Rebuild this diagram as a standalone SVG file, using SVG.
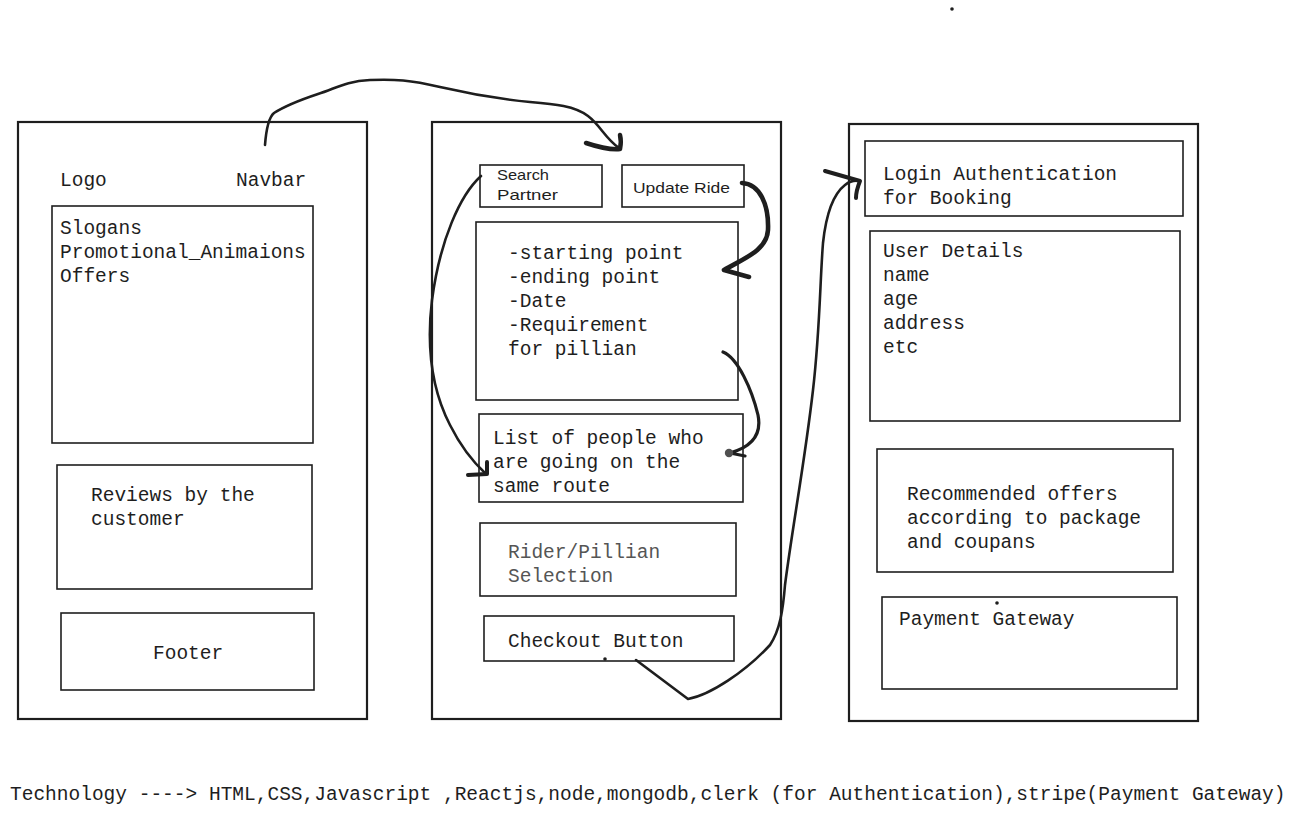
<svg xmlns="http://www.w3.org/2000/svg" width="1297" height="814" viewBox="0 0 1297 814">
<style>
.frame{fill:#fff;stroke:#1e1e1e;stroke-width:2.2}
.box{fill:none;stroke:#1e1e1e;stroke-width:1.6}
.t{font-family:"Liberation Mono","DejaVu Sans Mono",monospace;font-size:19.5px;fill:#1e1e1e}
.g{fill:#555}
.h{font-family:"Liberation Sans","DejaVu Sans",sans-serif;font-size:15px;fill:#1e1e1e}
.c{fill:none;stroke:#1e1e1e;stroke-linecap:round;stroke-linejoin:round}
</style>
<rect width="1297" height="814" fill="#fff"/>
<g id="home-page">
<rect class="frame" x="18" y="122" width="349" height="597"/>
<text class="t" x="60" y="186">Logo</text>
<text class="t" x="236" y="186">Navbar</text>
</g>
<g id="hero">
<rect class="box" x="52" y="206" width="261" height="237"/>
<text class="t" x="60" y="234">Slogans</text>
<text class="t" x="60" y="258">Promotional_Animaions</text>
<text class="t" x="60" y="282">Offers</text>
</g>
<g id="reviews">
<rect class="box" x="57" y="465" width="255" height="124"/>
<text class="t" x="91" y="501">Reviews by the</text>
<text class="t" x="91" y="525">customer</text>
</g>
<g id="footer">
<rect class="box" x="61" y="613" width="253" height="77"/>
<text class="t" x="153" y="659">Footer</text>
</g>
<g id="ride-page">
<rect class="frame" x="432" y="122" width="349" height="597"/>
</g>
<g id="search-partner">
<rect class="box" x="480" y="165" width="122" height="42"/>
<text class="h" x="497" y="180" textLength="52" lengthAdjust="spacingAndGlyphs">Search</text>
<text class="h" x="497" y="200" textLength="61" lengthAdjust="spacingAndGlyphs">Partner</text>
</g>
<g id="update-ride">
<rect class="box" x="622" y="165" width="122" height="42"/>
<text class="h" x="633" y="193" textLength="97" lengthAdjust="spacingAndGlyphs">Update Ride</text>
</g>
<g id="ride-details">
<rect class="box" x="476" y="222" width="262" height="178" stroke-width="2"/>
<text class="t" x="508" y="259">-starting point</text>
<text class="t" x="508" y="283">-ending point</text>
<text class="t" x="508" y="307">-Date</text>
<text class="t" x="508" y="331">-Requirement</text>
<text class="t" x="508" y="355">for pillian</text>
</g>
<g id="people-list">
<rect class="box" x="479" y="414" width="264" height="88"/>
<text class="t" x="493" y="444">List of people who</text>
<text class="t" x="493" y="468">are going on the</text>
<text class="t" x="493" y="492">same route</text>
</g>
<g id="rider-selection">
<rect class="box" x="480" y="523" width="256" height="73"/>
<text class="t g" x="508" y="558">Rider/Pillian</text>
<text class="t g" x="508" y="582">Selection</text>
</g>
<g id="checkout">
<rect class="box" x="484" y="616" width="250" height="45"/>
<text class="t" x="508" y="647">Checkout Button</text>
<circle cx="605" cy="659" r="1.8" fill="#1e1e1e"/>
</g>
<g id="booking-page">
<rect class="frame" x="849" y="124" width="349" height="597"/>
</g>
<g id="login">
<rect class="box" x="865" y="141" width="318" height="75"/>
<text class="t" x="883" y="180">Login Authentication</text>
<text class="t" x="883" y="204">for Booking</text>
</g>
<g id="user-details">
<rect class="box" x="870" y="231" width="310" height="190"/>
<text class="t" x="883" y="257">User Details</text>
<text class="t" x="883" y="281">name</text>
<text class="t" x="883" y="305">age</text>
<text class="t" x="883" y="329">address</text>
<text class="t" x="883" y="353">etc</text>
</g>
<g id="offers">
<rect class="box" x="877" y="449" width="296" height="123"/>
<text class="t" x="907" y="500">Recommended offers</text>
<text class="t" x="907" y="524">according to package</text>
<text class="t" x="907" y="548">and coupans</text>
</g>
<g id="payment">
<rect class="box" x="882" y="597" width="295" height="92"/>
<text class="t" x="899" y="625">Payment Gateway</text>
<circle cx="997" cy="603" r="1.8" fill="#1e1e1e"/>
</g>
<circle cx="952" cy="9" r="1.8" fill="#1e1e1e"/>
<g id="connectors">
<path class="c" stroke-width="2.6" d="M265,145 C266,132 268,118 274,113 C285,106 300,100 318,94 C335,89 345,81 370,80 C395,79 410,80 440,87 C470,94 500,99 530,102 C555,104 575,106 588,116 C600,125 605,138 619,148"/>
<path class="c" stroke-width="4.5" d="M586,143 C598,147 610,150 620,149 C621,144 621,139 620,135"/>
<path class="c" stroke-width="4.6" d="M742,183 C760,184 769,205 768,230 C767,250 745,258 724,270 L749,277"/>
<path class="c" stroke="#505050" stroke-width="3.2" d="M723,352 C738,358 752,390 758,415 C762,435 752,447 730,453 L745,456"/>
<circle cx="729" cy="453" r="4.2" fill="#505050"/>
<path class="c" stroke-width="2.6" d="M481,176 C460,195 440,240 432,300 C426,350 432,390 450,425 C460,445 473,462 486,474"/>
<path class="c" stroke-width="4" d="M468,475 L487,474 L487,462"/>
<path class="c" stroke-width="2.6" d="M636,660 L688,699 C710,695 745,672 770,645 C780,630 783,610 785,585 C792,530 805,460 813,390 C820,330 820,280 823,243 C826,215 832,195 845,185 C850,181 855,180 860,181"/>
<path class="c" stroke-width="4" d="M825,171 L860,181 C858,186 856,192 856,198"/>
</g>
<text class="t" x="10" y="800">Technology ----&gt; HTML,CSS,Javascript ,Reactjs,node,mongodb,clerk (for Authentication),stripe(Payment Gateway)</text>
</svg>
